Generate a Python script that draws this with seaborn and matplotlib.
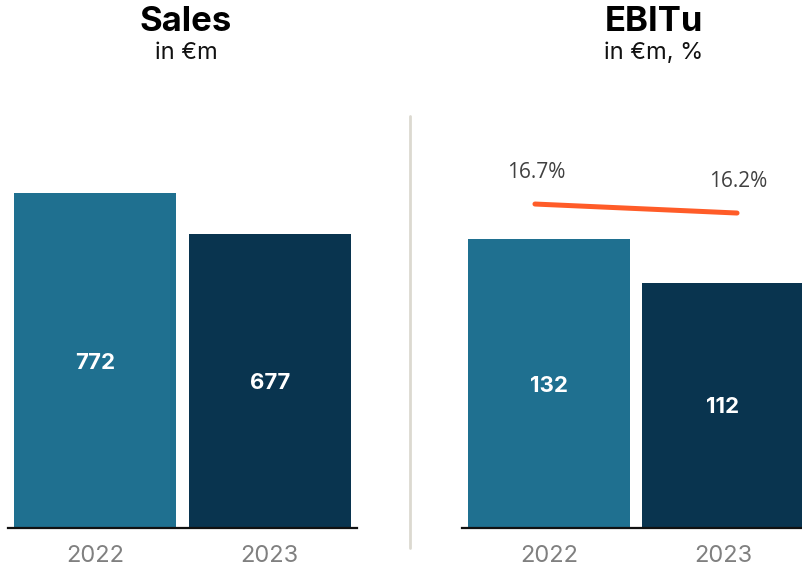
import matplotlib
matplotlib.use("Agg")
import matplotlib.pyplot as plt
from matplotlib.lines import Line2D
import seaborn as sns
import pandas as pd

# Data
years = ["2022", "2023"]
sales = [772, 677]
ebitu = [132, 112]
ebitu_margin = [16.7, 16.2]

bar_colors = ["#1f7090", "#09344f"]
line_color = "#ff5c28"

sns.set_theme(style="white")
plt.rcParams["font.family"] = ["Inter", "DejaVu Sans"]

fig = plt.figure(figsize=(8.02, 5.67), dpi=100)

W, H = 802.0, 567.0
bottom = 1 - 528 / H
height = 428 / H


def bar_panel(rect, values, ymax):
    ax = fig.add_axes(rect)
    df = pd.DataFrame({"year": years, "value": values})
    sns.barplot(data=df, x="year", y="value", hue="year", palette=bar_colors,
                width=0.93, saturation=1, legend=False, linewidth=0, ax=ax)
    ax.set_xlim(-0.5, 1.5)
    ax.set_ylim(0, ymax)
    ax.set_xlabel("")
    ax.set_ylabel("")
    ax.set_yticks([])
    for side in ["top", "left", "right"]:
        ax.spines[side].set_visible(False)
    ax.spines["bottom"].set_color("#111111")
    ax.spines["bottom"].set_linewidth(1.6)
    ax.tick_params(axis="x", length=0, pad=12, labelsize=17, labelcolor="#808080")
    ax.patch.set_alpha(0)
    for cont in ax.containers:
        labels = ax.bar_label(cont, label_type="center", color="white", fontsize=16,
                              fontweight="bold")
        for t in labels:
            t.xyann = (0, -1.5)
    return ax


ax_sales = bar_panel([8 / W, bottom, 349 / W, height], sales, 986)
ax_ebit = bar_panel([462 / W, bottom, 348 / W, height], ebitu, 195.5)

# Margin line overlay on the EBITu panel
ax_line = fig.add_axes([462 / W, bottom, 348 / W, height])
ax_line.patch.set_alpha(0)
line_df = pd.DataFrame({"x": [0, 1], "margin": ebitu_margin})
sns.lineplot(data=line_df, x="x", y="margin", color=line_color, linewidth=3.6,
             solid_capstyle="round", ax=ax_line)
ax_line.set_xlim(-0.361, 1.361)
ax_line.set_ylim(-1.3, 22.48)
ax_line.axis("off")
for xi, m in zip(line_df["x"], ebitu_margin):
    ax_line.annotate(f"{m:.1f}%", (xi, m), xytext=(1, 23), textcoords="offset points",
                     ha="center", va="center", fontsize=15, color="#404040",
                     family=["Open Sans", "DejaVu Sans"])

# Titles
fig.text(186 / W, 1 - 31 / H, "Sales", ha="center", va="baseline",
         fontsize=25, fontweight="bold", color="black")
fig.text(186 / W, 1 - 59 / H, "in €m", ha="center", va="baseline",
         fontsize=17, color="#111111")
fig.text(654 / W, 1 - 31 / H, "EBITu", ha="center", va="baseline",
         fontsize=25, fontweight="bold", color="black")
fig.text(654 / W, 1 - 59 / H, "in €m, %", ha="center", va="baseline",
         fontsize=17, color="#111111")

# Divider between panels
fig.add_artist(Line2D([410 / W, 410 / W], [1 - 548 / H, 1 - 116 / H],
                      transform=fig.transFigure, color="#dcd9d0", linewidth=2))

fig.savefig("out.png", dpi=100)
